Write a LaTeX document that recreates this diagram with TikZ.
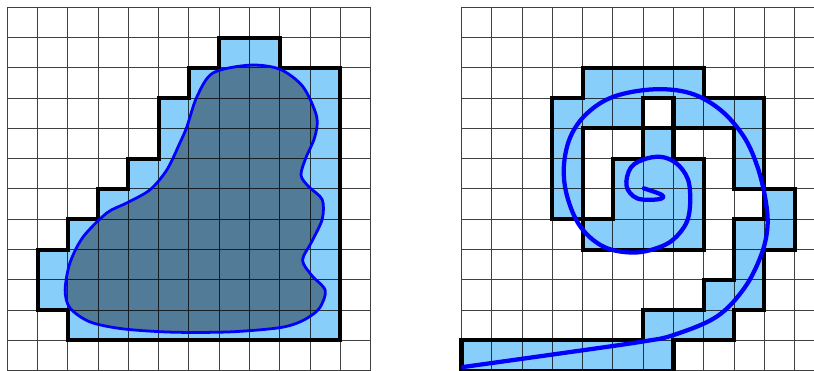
\documentclass[tikz,border=0pt]{standalone}
\usepackage{tikz}
\usetikzlibrary{calc}
\definecolor{cellblue}{RGB}{135,206,250}
\definecolor{curveblue}{RGB}{0,0,255}
\tikzset{
	gridline/.style={draw=black, opacity=0.75, line width=1pt},
	rim/.style={draw=black, line width=3.8pt},
	blobline/.style={draw=curveblue, line width=2.6pt},
	spiralline/.style={draw=curveblue, line width=4pt, line cap=round}
}
\newcommand{\cellgrid}{\draw[gridline] \foreach \i in {0,...,12} {(\i,0) -- (\i,12) (0,\i) -- (12,\i)};}
\newcommand{\blobpath}{plot[smooth cycle, tension=0.5] coordinates {
	(8.02,1.91) (9.01,2.05) (9.77,2.63) (10.22,3.62) (10.15,4.3) (9.85,5.0) (9.70,5.55)
	(9.95,5.92) (10.40,6.35) (10.40,7.0) (10.05,7.75) (9.75,8.35) (10.05,8.85) (10.50,9.35)
	(10.30,9.95) (9.75,10.35) (9.0,10.58) (7.35,10.72) (5.47,10.73) (3.82,10.62) (2.73,10.39)
	(2.07,9.93) (1.91,9.34) (2.07,8.44) (2.50,7.59) (3.29,6.79) (3.95,6.46) (4.71,6.03)
	(5.27,5.37) (5.70,4.48) (5.93,3.95) (6.26,2.96) (6.79,2.17)}}

\begin{document}
\begin{tikzpicture}
			%%%%% START %%%%%
			\useasboundingbox (-0.24, -0.01) rectangle (26.64, 12.24);
			
			% left: region round the blob
			\begin{scope}[shift={(0,12)}, yscale=-1]
			\fill[cellblue] (7,1) -- (9,1) -- (9,2) -- (11,2) -- (11,11) -- (2,11) -- (2,10) -- (1,10) -- (1,8) -- (2,8) -- (2,7) -- (3,7) -- (3,6) -- (4,6) -- (4,5) -- (5,5) -- (5,3) -- (6,3) -- (6,2) -- (7,2) -- cycle;
			\fill[black, opacity=0.4] \blobpath;
			\cellgrid
			\draw[rim] (7,1) -- (9,1) -- (9,2) -- (11,2) -- (11,11) -- (2,11) -- (2,10) -- (1,10) -- (1,8) -- (2,8) -- (2,7) -- (3,7) -- (3,6) -- (4,6) -- (4,5) -- (5,5) -- (5,3) -- (6,3) -- (6,2) -- (7,2) -- cycle;
			\draw[blobline] \blobpath;
			\end{scope}
			
			% right: cells along the spiral
			\begin{scope}[shift={(15,12)}, yscale=-1]
			\foreach \c/\r in {4/2,5/2,6/2,7/2,
				3/3,4/3,5/3,7/3,8/3,9/3,
				3/4,6/4,9/4,
				3/5,5/5,6/5,7/5,9/5,
				3/6,5/6,6/6,7/6,10/6,
				4/7,5/7,6/7,7/7,9/7,10/7,
				9/8, 8/9,9/9, 6/10,7/10,8/10,
				0/11,1/11,2/11,3/11,4/11,5/11,6/11}
				\fill[cellblue] (\c,\r) rectangle ++(1,1);
			\cellgrid
			\draw[rim] (4,2) -- (8,2) -- (8,3) -- (10,3) -- (10,6) -- (11,6) -- (11,8) -- (10,8) -- (10,10) -- (9,10) -- (9,11) -- (7,11) -- (7,12) -- (0,12) -- (0,11) -- (6,11) -- (6,10) -- (8,10) -- (8,9) -- (9,9) -- (9,7) -- (10,7) -- (10,6) -- (9,6) -- (9,4) -- (4,4) -- (4,8) -- (8,8) -- (8,5) -- (7,5) -- (7,3) -- (6,3) -- (6,5) -- (5,5) -- (5,7) -- (3,7) -- (3,3) -- (4,3) -- cycle;
			\draw[spiralline] plot[smooth, tension=0.6] coordinates {
				(6.02,5.98) (6.62,6.20) (6.51,6.34) (5.80,6.31) (5.45,5.90) (5.60,5.28)
				(6.13,4.99) (6.70,4.96) (7.20,5.25) (7.52,5.85) (7.50,6.90) (7.12,7.55)
				(6.57,7.91) (5.69,8.10) (4.70,7.91) (3.93,7.25) (3.49,6.25) (3.38,5.26)
				(3.60,4.27) (4.15,3.50) (5.03,2.95) (6.35,2.71) (7.56,2.84) (8.55,3.39)
				(9.32,4.27) (9.77,5.26) (10.04,6.36) (10.10,7.3) (9.87,8.25) (9.32,9.30)
				(8.42,10.22) (7.01,10.82) (5.97,11.04) (3.27,11.43) (0.05,11.88)};
			\end{scope}
			
			%%%%% END %%%%%
\end{tikzpicture}
\end{document}
